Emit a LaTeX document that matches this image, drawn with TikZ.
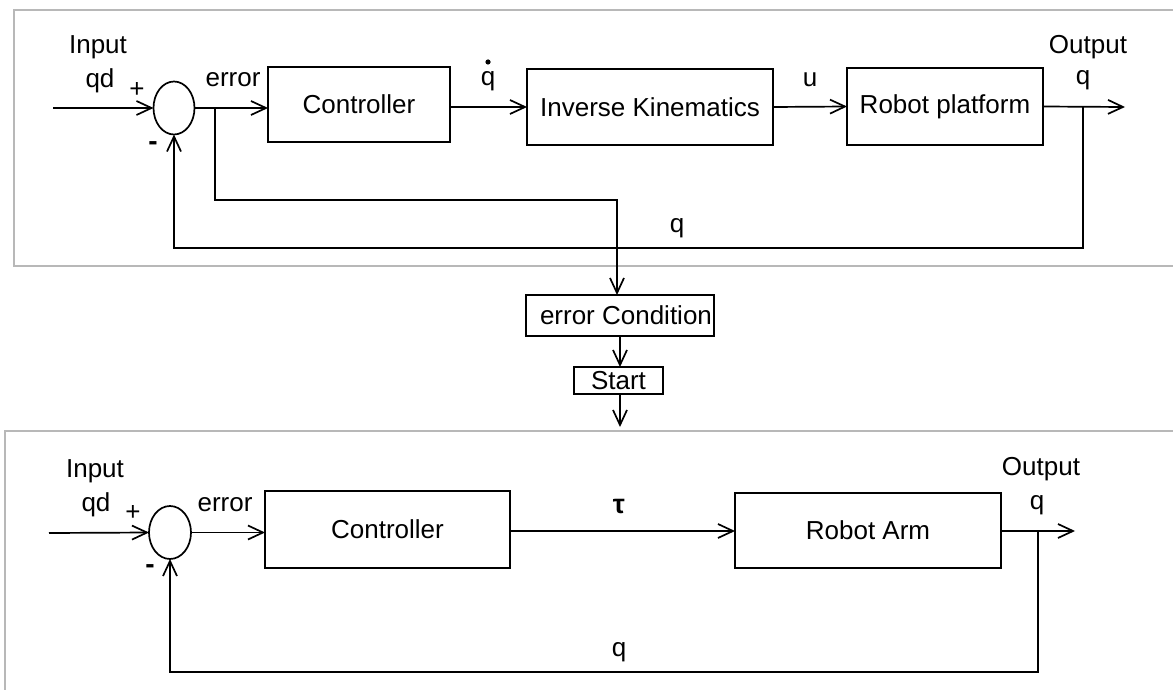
\documentclass[tikz,border=0pt]{standalone}
\usepackage{fontspec}
\setmainfont{Liberation Sans}
\usetikzlibrary{arrows.meta,shapes.geometric}

\begin{document}
\begin{tikzpicture}[x=1pt,y=-1pt,
  font=\fontsize{26}{30}\selectfont,
  every node/.style={inner sep=0pt, outer sep=0pt},
  wire/.style={line width=1.7pt, line join=miter},
  sig/.style={wire, -{Straight Barb[length=15pt,width=14pt,line width=1.7pt]}},
  blockbox/.style={draw, line width=1.7pt, rectangle, align=center},
  summer/.style={draw, line width=1.7pt, ellipse, minimum width=41pt, minimum height=53pt},
  panel/.style={draw=black!28, line width=2pt},
  lbl/.style={anchor=center}
]
\useasboundingbox (0,0) rectangle (1173,690);

% panels
\draw[panel] (1190,10) -- (14,10) -- (14,266) -- (1190,266);
\draw[panel] (1190,431) -- (5,431) -- (5,700);

% ---------- mobile platform loop ----------
\node[summer] (sumA) at (174,108) {};
\node[blockbox, minimum width=182pt, minimum height=75pt] (ctrlA) at (359,104.5) {Controller};
\node[blockbox, minimum width=246pt, minimum height=76pt] (ik) at (650,107) {Inverse Kinematics};
\node[blockbox, minimum width=196pt, minimum height=77pt] (plat) at (945,106.5) {Robot platform};

\coordinate (inA) at (53,108);
\coordinate (brA) at (215,108);
\coordinate (outA) at (1125,107);
\coordinate (tapA) at (1083,107);
\coordinate (errRoute) at (617,200);

\draw[sig] (inA) -- (sumA.west);
\draw[sig] (sumA.east) -- (sumA.east -| ctrlA.west);
\draw[sig] (ctrlA.east |- 0,107) -- (ik.west);
\draw[sig] (ik.east) -- (plat.west);
\draw[sig] (plat.east) -- (outA);
\draw[sig] (tapA) |- (sumA.south |- 0,248) -- (sumA.south);

\node[lbl] at (98,47.5) {Input};
\node[lbl] at (100,81) {qd};
\node[lbl] at (137,90) {+};
\node[lbl, font=\fontsize{28}{30}\selectfont\bfseries] at (153,146) {-};
\node[lbl] at (233,80) {error};
\node[lbl] (qdot) at (488,81) {q};
\fill (488,62) circle (2.6pt);
\node[lbl] at (810,80) {u};
\node[lbl] at (1088,47) {Output};
\node[lbl] at (1083,80) {q};
\node[lbl] at (677,228) {q};

% ---------- switching logic ----------
\node[blockbox, minimum width=188pt, minimum height=41pt] (cond) at (620,315.5) {};
\node[anchor=west] at (540,315.5) {error Condition};
\node[blockbox, minimum width=89pt, minimum height=27pt] (start) at (618.5,380.5) {Start};
\coordinate (armGo) at (620,427);

\draw[sig] (brA) |- (errRoute) -- (errRoute |- cond.north);
\draw[sig] (620,336) -- (start.north -| 620,0);
\draw[sig] (start.south -| 620,0) -- (armGo);

% ---------- robot arm loop ----------
\node[summer, minimum width=42pt] (sumB) at (170,532.5) {};
\node[blockbox, minimum width=245pt, minimum height=77pt] (ctrlB) at (387.5,529.5) {Controller};
\node[blockbox, minimum width=266pt, minimum height=75pt] (arm) at (868,530.5) {Robot Arm};

\coordinate (inB) at (49,533);
\coordinate (outB) at (1075,531);
\coordinate (tapB) at (1038,531);

\draw[sig] (inB) -- (sumB.west);
\draw[sig] (sumB.east) -- (sumB.east -| ctrlB.west);
\draw[sig] (ctrlB.east |- 0,531) -- (arm.west |- 0,531);
\draw[sig] (arm.east |- 0,531) -- (outB);
\draw[sig] (tapB) |- (sumB.south |- 0,672) -- (sumB.south);

\node[lbl] at (95,471) {Input};
\node[lbl] at (96,505) {qd};
\node[lbl] at (133,513) {+};
\node[lbl, font=\fontsize{28}{30}\selectfont\bfseries] at (150,569) {-};
\node[lbl] at (225,505) {error};
\node[lbl, font=\fontsize{27}{30}\selectfont\bfseries] at (619,507) {τ};
\node[lbl] at (1041,469) {Output};
\node[lbl] at (1037,505) {q};
\node[lbl] at (619,652) {q};
\end{tikzpicture}
\end{document}
